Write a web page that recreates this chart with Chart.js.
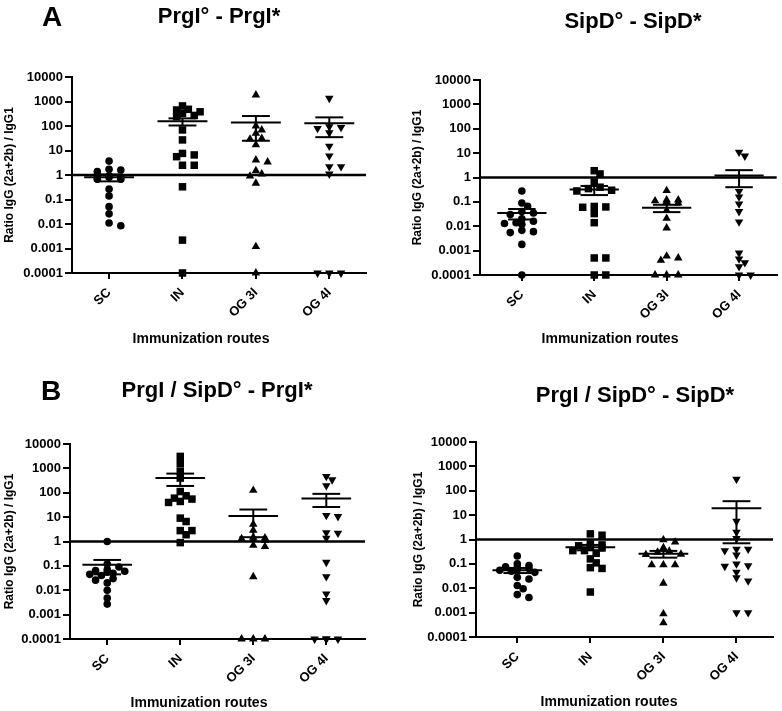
<!DOCTYPE html>
<html>
<head>
<meta charset="utf-8">
<script src="https://cdn.jsdelivr.net/npm/chart.js@4.4.1/dist/chart.umd.min.js"></script>
<style>
  body { margin: 0; background: #fff; }
  #fig { position: relative; width: 782px; height: 711px; font-family: 'Liberation Sans', Arial, sans-serif; color: #000; }
  #fig canvas { position: absolute; }
  .lbl { position: absolute; transform: translate(-50%, -50%); white-space: nowrap; font-weight: bold; }
  .letter { font-size: 28px; }
  .ttl { font-size: 22px; }
  .xlab { font-size: 14px; }
</style>
</head>
<body>
<div id="fig">
  <div class="lbl letter" style="left:52px;top:17px">A</div>
  <div class="lbl ttl" style="left:219px;top:16px">PrgI° - PrgI*</div>
  <div class="lbl ttl" style="left:633px;top:21px">SipD° - SipD*</div>
  <div class="lbl xlab" style="left:201px;top:338px">Immunization routes</div>
  <div class="lbl xlab" style="left:610px;top:338px">Immunization routes</div>

  <div class="lbl letter" style="left:51px;top:391px">B</div>
  <div class="lbl ttl" style="left:217px;top:390px">PrgI / SipD° - PrgI*</div>
  <div class="lbl ttl" style="left:635px;top:395px">PrgI / SipD° - SipD*</div>
  <div class="lbl xlab" style="left:199px;top:702px">Immunization routes</div>
  <div class="lbl xlab" style="left:609px;top:701px">Immunization routes</div>
</div>
<script>
const categories = ['SC', 'IN', 'OG 3I', 'OG 4I'];
const yTicks = [0.0001, 0.001, 0.01, 0.1, 1, 10, 100, 1000, 10000];

// A - PrgI° - PrgI*
const a1SC = [3.7, 1.7, 1.6, 1.37, 0.93, 0.8, 0.8, 0.8, 0.67, 0.67, 0.27, 0.14, 0.051, 0.026, 0.011, 0.0085];
const a1IN = [660, 480, 450, 380, 330, 270, 240, 69, 27, 7.6, 6.6, 5.6, 2.5, 2.5, 0.33, 0.0022, 0.0001];
const a1OG3 = [1850, 100, 69, 50, 31, 29, 17, 4.1, 3.4, 1.5, 1.1, 0.9, 0.46, 0.0012, 0.0001];
const a1OG4 = [1350, 94, 88, 80, 53, 15, 6, 2.2, 2.2, 1.1, 0.0001, 0.0001, 0.0001];
const a1Mean = [0.8, 155, 140, 130];
const a1Sem = [0.25, 50, 115, 95];

// A - SipD° - SipD*
const a2SC = [0.28, 0.09, 0.066, 0.04, 0.035, 0.03, 0.02, 0.016, 0.014, 0.013, 0.012, 0.0068, 0.006, 0.0055, 0.0018, 0.0001];
const a2IN = [1.9, 1.4, 0.65, 0.4, 0.35, 0.3, 0.28, 0.065, 0.062, 0.06, 0.033, 0.014, 0.0005, 0.0005, 0.0001, 0.0001];
const a2OG3 = [0.29, 0.12, 0.12, 0.11, 0.1, 0.09, 0.045, 0.021, 0.0085, 0.0006, 0.0005, 0.0004, 0.0001, 0.0001, 0.0001];
const a2OG4 = [11, 7.6, 0.27, 0.16, 0.083, 0.04, 0.015, 0.0008, 0.00046, 0.00032, 0.00022, 0.0001, 0.0001];
const a2Mean = [0.035, 0.32, 0.057, 1.2];
const a2Sem = [0.016, 0.13, 0.019, 0.8];

// B - PrgI / SipD° - PrgI*
const b1SC = [1.0, 0.12, 0.09, 0.07, 0.065, 0.06, 0.055, 0.05, 0.045, 0.04, 0.03, 0.026, 0.02, 0.01, 0.0048, 0.0027];
const b1IN = [3100, 1550, 760, 400, 112, 75, 60, 55, 44, 40, 9.1, 6.6, 2.8, 2.8, 1.9, 0.9];
const b1OG3 = [125, 5.1, 2.9, 1.5, 1.4, 1.3, 1.2, 1.1, 0.7, 0.62, 0.036, 0.0001, 0.0001, 0.0001];
const b1OG4 = [470, 340, 195, 11.7, 10.6, 2.3, 2.2, 1.37, 0.14, 0.036, 0.0071, 0.0038, 0.0001, 0.0001, 0.0001, 0.0001];
const b1Mean = [0.11, 400, 11, 58];
const b1Sem = [0.065, 210, 9.5, 32];

// B - PrgI / SipD° - SipD*
const b2SC = [0.21, 0.1, 0.085, 0.075, 0.07, 0.065, 0.06, 0.055, 0.05, 0.045, 0.028, 0.024, 0.013, 0.0095, 0.0055, 0.0042];
const b2IN = [1.7, 1.5, 0.65, 0.6, 0.55, 0.5, 0.45, 0.35, 0.35, 0.27, 0.16, 0.11, 0.07, 0.065, 0.007];
const b2OG3 = [0.97, 0.78, 0.46, 0.33, 0.3, 0.25, 0.24, 0.091, 0.091, 0.091, 0.016, 0.00089, 0.00038];
const b2OG4 = [300, 5.6, 2.0, 1.1, 0.4, 0.4, 0.35, 0.23, 0.1, 0.085, 0.08, 0.046, 0.027, 0.02, 0.001, 0.001];
const b2Mean = [0.055, 0.48, 0.26, 19];
const b2Sem = [0.013, 0.12, 0.08, 18.3];

// one marker per route: circle, square, triangle, inverted triangle
const markers = [
  {style: 'circle', radius: 3.8, rotation: 0},
  {style: 'rect', radius: 5.3, rotation: 0},
  {style: 'triangle', radius: 4.9, rotation: 0},
  {style: 'triangle', radius: 4.9, rotation: 180}
];

const panels = [
  {groups: [a1SC, a1IN, a1OG3, a1OG4], mean: a1Mean, sem: a1Sem,
   box: {left: 0, top: 30, width: 390, height: 320}, plot: {left: 72, top: 77, right: 366, bottom: 273},
   yTitleX: 8, xMin: 0.495, xMax: 4.5},
  {groups: [a2SC, a2IN, a2OG3, a2OG4], mean: a2Mean, sem: a2Sem,
   box: {left: 390, top: 30, width: 392, height: 320}, plot: {left: 480, top: 80, right: 778, bottom: 275},
   yTitleX: 418, xMin: 0.422, xMax: 4.52},
  {groups: [b1SC, b1IN, b1OG3, b1OG4], mean: b1Mean, sem: b1Sem,
   box: {left: 0, top: 395, width: 390, height: 316}, plot: {left: 70, top: 444, right: 365, bottom: 639},
   yTitleX: 8, xMin: 0.49, xMax: 4.53},
  {groups: [b2SC, b2IN, b2OG3, b2OG4], mean: b2Mean, sem: b2Sem,
   box: {left: 390, top: 395, width: 392, height: 316}, plot: {left: 476, top: 442, right: 773, bottom: 637},
   yTitleX: 419, xMin: 0.435, xMax: 4.5}
];

const X_AXIS_H = 50;

// small beeswarm: shift points sideways when they overlap (log y), but keep the group narrow
function swarm(values, center) {
  const step = 0.08, dx = 0.1, dy = 0.22, maxK = 6;
  const placed = [];
  values.slice().sort((a, b) => b - a).forEach(v => {
    const ly = Math.log10(v);
    let best = 0, bestHits = Infinity;
    for (let k = 0; k <= maxK; k++) {
      const off = (k % 2 ? 1 : -1) * Math.ceil(k / 2) * step;
      const hits = placed.filter(p => ((p.off - off) / dx) ** 2 + ((p.ly - ly) / dy) ** 2 < 1).length;
      if (hits < bestHits) { best = off; bestHits = hits; }
      if (hits === 0) break;
    }
    placed.push({off: best, ly, v});
  });
  return placed.map(p => ({x: center + p.off, y: p.v}));
}

function segment(x1, x2, y1, y2, w) {
  return {
    type: 'scatter', showLine: true, clip: false,
    data: [{x: x1, y: y1}, {x: x2, y: y2}],
    borderColor: '#000', borderWidth: w, pointRadius: 0
  };
}

Chart.defaults.font.family = "'Liberation Sans', Arial, sans-serif";
Chart.defaults.color = '#000';

const fig = document.getElementById('fig');

panels.forEach(p => {
  const cv = document.createElement('canvas');
  cv.width = p.box.width;
  cv.height = p.box.height;
  cv.style.left = p.box.left + 'px';
  cv.style.top = p.box.top + 'px';
  fig.insertBefore(cv, fig.firstChild);

  const titleOffset = 12 * 1.2 / 2 + 2;
  const padLeft = Math.max(0, p.yTitleX - p.box.left - titleOffset);
  const yAxisW = p.plot.left - p.box.left - padLeft;

  const datasets = [];
  p.groups.forEach((vals, i) => {
    const m = markers[i];
    datasets.push({
      data: swarm(vals, i + 1), clip: false,
      pointStyle: m.style, pointRadius: m.radius, pointRotation: m.rotation,
      pointBackgroundColor: '#000', pointBorderWidth: 0
    });
    const c = i + 1, mean = p.mean[i], hi = mean + p.sem[i], lo = mean - p.sem[i];
    datasets.push(segment(c - 0.34, c + 0.34, mean, mean, 2));
    datasets.push(segment(c - 0.19, c + 0.19, hi, hi, 2));
    datasets.push(segment(c - 0.19, c + 0.19, lo, lo, 2));
    datasets.push(segment(c, c, lo, hi, 2));
  });
  // reference line at ratio = 1
  datasets.push(segment(p.xMin, p.xMax, 1, 1, 2.5));

  new Chart(cv, {
    type: 'scatter',
    data: {datasets},
    options: {
      responsive: false,
      animation: false,
      events: [],
      layout: {
        padding: {
          left: padLeft,
          top: p.plot.top - p.box.top,
          right: p.box.left + p.box.width - p.plot.right,
          bottom: p.box.top + p.box.height - p.plot.bottom - X_AXIS_H
        }
      },
      plugins: {legend: {display: false}, tooltip: {enabled: false}},
      scales: {
        x: {
          type: 'linear', min: p.xMin, max: p.xMax,
          afterBuildTicks: s => { s.ticks = categories.map((c, i) => ({value: i + 1})); },
          afterFit: s => { s.height = X_AXIS_H; },
          ticks: {
            callback: (v, i) => categories[i],
            minRotation: 45, maxRotation: 45, autoSkip: false, padding: 6,
            font: {size: 13, weight: 'bold'}
          },
          grid: {drawOnChartArea: false, drawTicks: true, tickLength: 6, color: '#000', lineWidth: 2},
          border: {color: '#000', width: 2}
        },
        y: {
          type: 'logarithmic', min: 0.0001, max: 10000,
          afterBuildTicks: s => { s.ticks = yTicks.map(v => ({value: v})); },
          afterFit: s => { s.width = yAxisW; },
          ticks: {
            callback: v => String(v),
            padding: 2,
            font: {size: 13, weight: 'bold'}
          },
          grid: {drawOnChartArea: false, drawTicks: true, tickLength: 7, color: '#000', lineWidth: 2},
          border: {color: '#000', width: 2},
          title: {
            display: true, text: 'Ratio IgG (2a+2b) / IgG1',
            font: {size: 12, weight: 'bold'}, padding: {top: 2, bottom: 0}
          }
        }
      }
    }
  });
});
</script>
</body>
</html>
